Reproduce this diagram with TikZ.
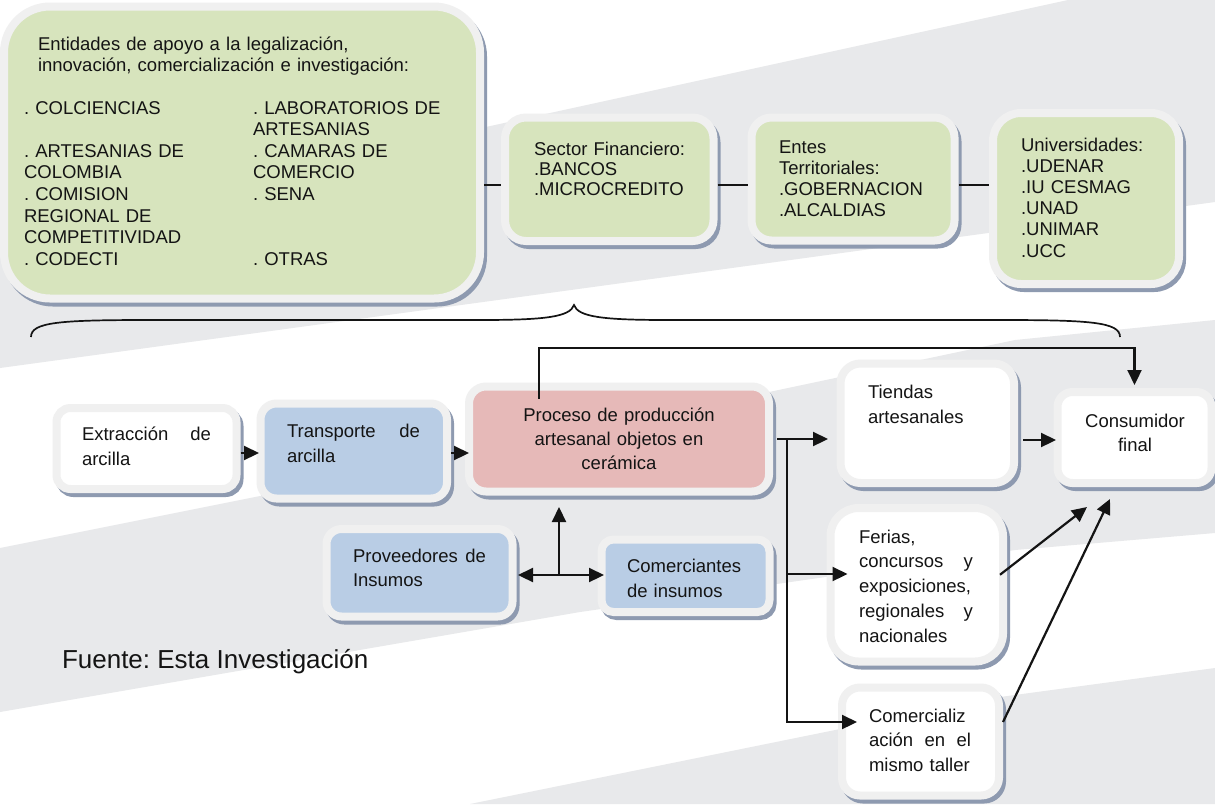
\documentclass[tikz,border=0pt]{standalone}
\usepackage{fontspec}
\setmainfont{Liberation Sans}
\usetikzlibrary{arrows.meta,calc}
\frenchspacing

\definecolor{bandgrey}{HTML}{E8E9EB}
\definecolor{framegrey}{HTML}{F0F0F0}
\definecolor{shadowblue}{HTML}{8E9AB0}
\definecolor{sage}{HTML}{D7E4BD}
\definecolor{skyblue}{HTML}{B9CDE5}
\definecolor{rose}{HTML}{E6B9B8}
\definecolor{ink}{HTML}{141414}

\begin{document}
\begin{tikzpicture}[x=1pt,y=-1pt,
  panel/.style={rectangle, inner sep=0pt, outer sep=0pt,
    draw=framegrey, line width=8pt, fill=#1,
    preaction={draw=shadowblue, fill=shadowblue, line width=8pt,
      transform canvas={xshift=3pt,yshift=-4pt}}},
  txt/.style={inner sep=0pt, outer sep=0pt, anchor=base west, align=left,
    text=ink, font=\fontsize{18.5}{24.5}\selectfont},
  ctxt/.style={txt, anchor=base, align=center},
  link/.style={draw=ink, line width=2.2pt},
  arr/.style={link, -{Triangle[length=15pt,width=14pt]}},
  dblarr/.style={link, {Triangle[length=15pt,width=14pt]}-{Triangle[length=15pt,width=14pt]}}
]
\useasboundingbox (0,0) rectangle (1215,804);

% background with soft diagonal bands
\fill[white] (0,0) rectangle (1215,804);
\fill[bandgrey] (0,233) -- (1068,0) -- (1215,0) -- (1215,202) -- (0,368) -- cycle;
\fill[bandgrey] (0,548) -- (580,432) -- (1015,340) -- (1215,320)
  -- (1215,533) -- (1015,550) -- (580,612) -- (0,712) -- cycle;
\fill[bandgrey] (470,804) -- (850,727) -- (1000,697) -- (1215,668) -- (1215,804) -- cycle;

% level references for connectors
\coordinate (hTop) at (0,185);
\coordinate (hRow) at (0,453);
\coordinate (hTi) at (0,440);
\coordinate (hFer) at (0,574);
\coordinate (hCom) at (0,722);
\coordinate (hSup) at (0,575);
\coordinate (hLoop) at (0,348);
\coordinate (split) at (787,439);
\coordinate (fork) at (559,575);
\coordinate (tipA) at (1087,507);
\coordinate (tipB) at (1110,499);

% support entities
\node[panel=sage, rounded corners=46pt, minimum width=476pt, minimum height=292pt] (big) at (242,152.5) {};
\node[panel=sage, rounded corners=21pt, minimum width=208.5pt, minimum height=123.5pt] (sector) at (609.25,179.25) {};
\node[panel=sage, rounded corners=20pt, minimum width=203pt, minimum height=123pt] (entes) at (853,179) {};
\node[panel=sage, rounded corners=28pt, minimum width=186pt, minimum height=171pt] (univ) at (1086,198.5) {};

% production chain
\node[panel=white, rounded corners=14pt, minimum width=180pt, minimum height=81pt] (extr) at (146.5,448.5) {};
\node[panel=skyblue, rounded corners=16pt, minimum width=186.5pt, minimum height=95pt] (trans) at (353.75,451) {};
\node[panel=rose, rounded corners=17pt, minimum width=300pt, minimum height=105pt] (proc) at (619,439) {};
\node[panel=skyblue, rounded corners=15pt, minimum width=186pt, minimum height=87.5pt] (prov) at (419.5,572.75) {};
\node[panel=skyblue, rounded corners=12pt, minimum width=168pt, minimum height=72.5pt] (comi) at (685.5,575.75) {};
\node[panel=white, rounded corners=20pt, minimum width=173.5pt, minimum height=119.5pt] (tiendas) at (927.25,423.25) {};
\node[panel=white, rounded corners=15pt, minimum width=154pt, minimum height=91pt] (cons) at (1134.5,437.5) {};
\node[panel=white, rounded corners=28pt, minimum width=172.5pt, minimum height=153.5pt] (ferias) at (916.75,584.75) {};
\node[panel=white, rounded corners=18pt, minimum width=157pt, minimum height=108pt] (comerc) at (920.5,741.5) {};

% texts
\node[txt, text width=440pt, font=\fontsize{18.5}{21}\selectfont] (tbighead) at (38,50)
  {Entidades de apoyo a la legalización,\\innovación, comercialización e investigación:};
\node[txt, text width=222pt, font=\fontsize{18.5}{21.6}\selectfont] (tbigl) at (24,114)
  {. COLCIENCIAS\\\mbox{}\\. ARTESANIAS DE\\COLOMBIA\\. COMISION\\REGIONAL DE\\COMPETITIVIDAD\\. CODECTI};
\node[txt, text width=222pt, font=\fontsize{18.5}{21.6}\selectfont] (tbigr) at (253,114)
  {. LABORATORIOS DE\\ARTESANIAS\\. CAMARAS DE\\COMERCIO\\. SENA\\\mbox{}\\\mbox{}\\. OTRAS};
\node[txt, text width=180pt, font=\fontsize{18.5}{20.3}\selectfont] (tsector) at (534,155)
  {Sector Financiero:\\.BANCOS\\.MICROCREDITO};
\node[txt, text width=170pt, font=\fontsize{18.5}{21}\selectfont] (tentes) at (779,153)
  {Entes\\Territoriales:\\.GOBERNACION\\.ALCALDIAS};
\node[txt, text width=150pt, font=\fontsize{18.5}{21.2}\selectfont] (tuniv) at (1021,151)
  {Universidades:\\.UDENAR\\.IU CESMAG\\.UNAD\\.UNIMAR\\.UCC};

\node[txt, text width=129pt, font=\fontsize{18.5}{25}\selectfont] (textr) at (82,440)
  {Extracción\hfill de\\arcilla};
\node[txt, text width=133pt, font=\fontsize{18.5}{25}\selectfont] (ttrans) at (287,437)
  {Transporte\hfill de\\arcilla};
\node[ctxt, text width=290pt, font=\fontsize{18.5}{24}\selectfont] (tproc) at (619,421)
  {Proceso de producción\\artesanal objetos en\\cerámica};
\node[txt, text width=133pt, font=\fontsize{18.5}{24}\selectfont] (tprov) at (353,562)
  {Proveedores\hfill de\\Insumos};
\node[txt, text width=140pt, font=\fontsize{18.5}{25}\selectfont] (tcomi) at (627,572)
  {Comerciantes\\de insumos};
\node[txt, text width=140pt, font=\fontsize{18.5}{25}\selectfont] (ttiendas) at (868,398)
  {Tiendas\\artesanales};
\node[ctxt, text width=140pt, font=\fontsize{18.5}{24}\selectfont] (tcons) at (1135,427)
  {Consumidor\\final};
\node[txt, text width=114pt, font=\fontsize{18.5}{24.75}\selectfont] (tferias) at (859,543)
  {Ferias,\\concursos\hfill y\\exposiciones,\\regionales\hfill y\\nacionales};
\node[txt, text width=102pt, font=\fontsize{18.5}{24.5}\selectfont] (tcomerc) at (869,722)
  {Comercializ\\ación\hfill en\hfill el\\mismo taller};

\node[txt, font=\fontsize{26}{30}\selectfont] (fuente) at (62,668) {Fuente: Esta Investigación};

% links between the support entities
\draw[link, shorten <=4pt, shorten >=4pt] (big.east |- hTop) -- (sector.west |- hTop);
\draw[link, shorten <=4pt, shorten >=4pt] (sector.east |- hTop) -- (entes.west |- hTop);
\draw[link, shorten <=4pt, shorten >=4pt] (entes.east |- hTop) -- (univ.west |- hTop);

% brace grouping the entities over the chain
\draw[draw=ink, line width=1.7pt]
  (31,337) .. controls (31,322) and (60,320) .. (150,320) -- (480,320)
  .. controls (545,320) and (570,317) .. (574,305)
  .. controls (578,317) and (603,320) .. (668,320) -- (1000,320)
  .. controls (1090,320) and (1120,322) .. (1120,337);

% chain arrows
\draw[arr, shorten <=4pt, shorten >=1.5pt] (extr.east |- hRow) -- (trans.west |- hRow);
\draw[arr, shorten <=4pt] (trans.east |- hRow) -- (proc.west |- hRow);
\draw[arr, shorten <=8pt, shorten >=12.5pt] (proc.east) -- (tiendas.west |- proc.east);
\draw[arr, shorten >=-15pt] (split) |- (comerc.west |- hCom);
\draw[arr, shorten >=-17pt] (split |- hFer) -- (ferias.west |- hFer);
\draw[arr, shorten >=7pt] ([xshift=-80pt,yshift=-12pt]proc.north) |- (cons.north |- hLoop) -- (cons.north);
\draw[arr, shorten <=9pt, shorten >=1.5pt] (tiendas.east |- hTi) -- (cons.west |- hTi);
\draw[arr] ([xshift=-3pt,yshift=10pt]ferias.east) -- (tipA);
\draw[arr] ([xshift=4pt,yshift=19.5pt]comerc.east) -- (tipB);

% supply links
\draw[dblarr, shorten <=5.5pt, shorten >=-2.5pt] (prov.east |- hSup) -- (comi.west |- hSup);
\draw[arr, shorten >=15.5pt] (fork) -- (fork |- proc.south);
\end{tikzpicture}
\end{document}
